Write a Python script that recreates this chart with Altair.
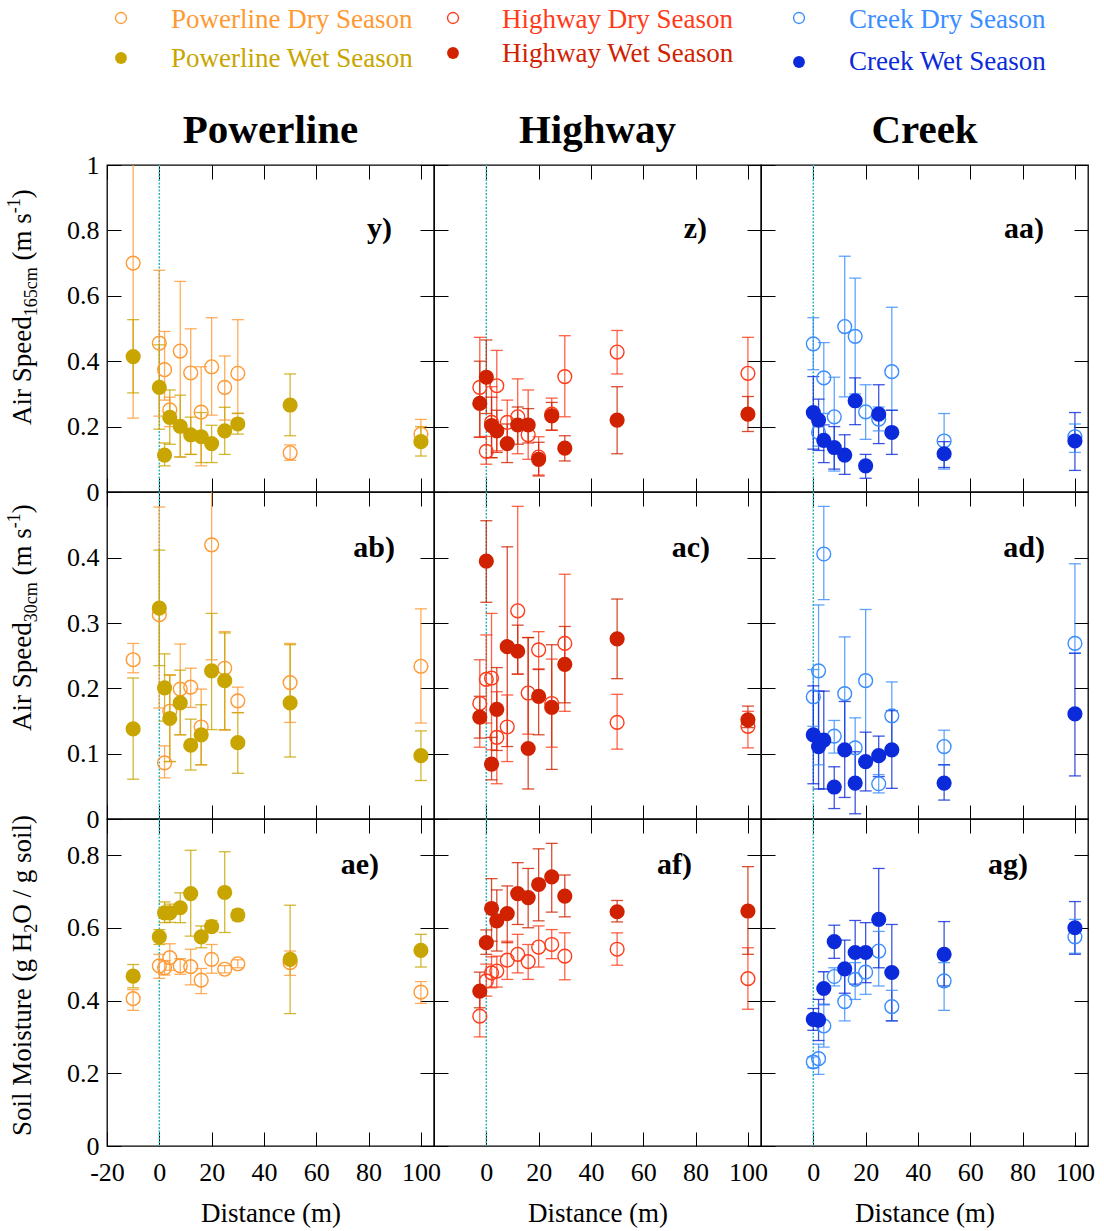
import altair as alt
import pandas as pd

FONT = "Liberation Serif"

SITES = ["Powerline", "Highway", "Creek"]
SERIES = ["Powerline Dry Season", "Powerline Wet Season",
          "Highway Dry Season", "Highway Wet Season",
          "Creek Dry Season", "Creek Wet Season"]
SERIES_COLORS = ["#FF9933", "#C8A500", "#FF3B1A", "#D02200", "#3A8DFF", "#0B2BDB"]
PANEL_LABELS = [["y)", "z)", "aa)"], ["ab)", "ac)", "ad)"], ["ae)", "af)", "ag)"]]

X_TICKS_FIRST = [-20, 0, 20, 40, 60, 80, 100]
X_TICKS_OTHER = [0, 20, 40, 60, 80, 100]
Y_TICKS = [[0, 0.2, 0.4, 0.6, 0.8, 1.0], [0, 0.1, 0.2, 0.3, 0.4], [0, 0.2, 0.4, 0.6, 0.8]]
Y_DOMAINS = [[0, 1.0], [0, 0.501], [0, 0.899]]

# ---------------- Powerline ----------------
PL_X = [-10, 0, 2, 4, 8, 12, 16, 20, 25, 30, 50, 100]
PL_V165_DRY = [0.700, 0.455, 0.374, 0.251, 0.431, 0.364, 0.244, 0.383, 0.320, 0.363, 0.120, 0.177]
PL_V165_DRY_LO = [0.226, 0.232, 0.281, 0.200, 0.107, 0.115, 0.080, 0.235, 0.220, 0.240, 0.097, 0.154]
PL_V165_DRY_HI = [1.050, 0.678, 0.491, 0.290, 0.644, 0.499, 0.383, 0.533, 0.416, 0.527, 0.144, 0.222]
PL_V165_WET = [0.414, 0.320, 0.113, 0.228, 0.201, 0.175, 0.169, 0.148, 0.187, 0.208, 0.266, 0.154]
PL_V165_WET_LO = [0.303, 0.192, 0.080, 0.146, 0.107, 0.115, 0.090, 0.090, 0.115, 0.177, 0.172, 0.110]
PL_V165_WET_HI = [0.527, 0.450, 0.150, 0.312, 0.296, 0.229, 0.243, 0.204, 0.259, 0.241, 0.361, 0.200]

PL_V30_DRY = [0.244, 0.313, 0.086, 0.165, 0.199, 0.202, 0.141, 0.420, 0.231, 0.181, 0.209, 0.234]
PL_V30_DRY_LO = [0.224, 0.170, 0.063, 0.088, 0.129, 0.171, 0.083, 0.244, 0.136, 0.163, 0.148, 0.147]
PL_V30_DRY_HI = [0.269, 0.478, 0.112, 0.220, 0.268, 0.231, 0.199, 0.520, 0.287, 0.202, 0.269, 0.322]
PL_V30_WET = [0.138, 0.323, 0.201, 0.154, 0.178, 0.113, 0.129, 0.227, 0.212, 0.117, 0.178, 0.097]
PL_V30_WET_LO = [0.061, 0.235, 0.150, 0.088, 0.129, 0.075, 0.083, 0.137, 0.137, 0.070, 0.095, 0.059]
PL_V30_WET_HI = [0.216, 0.412, 0.253, 0.221, 0.228, 0.153, 0.175, 0.315, 0.285, 0.163, 0.267, 0.135]

PL_SM_DRY = [0.405, 0.495, 0.490, 0.518, 0.495, 0.493, 0.456, 0.513, 0.486, 0.501, 0.504, 0.423]
PL_SM_DRY_LO = [0.373, 0.461, 0.470, 0.483, 0.472, 0.443, 0.419, 0.475, 0.476, 0.490, 0.469, 0.392]
PL_SM_DRY_HI = [0.430, 0.527, 0.510, 0.556, 0.515, 0.541, 0.488, 0.554, 0.496, 0.512, 0.536, 0.452]
PL_SM_WET = [0.467, 0.575, 0.641, 0.641, 0.655, 0.694, 0.575, 0.603, 0.697, 0.635, 0.513, 0.538]
PL_SM_WET_LO = [0.435, 0.554, 0.614, 0.615, 0.614, 0.577, 0.545, 0.590, 0.587, 0.620, 0.364, 0.492]
PL_SM_WET_HI = [0.499, 0.595, 0.671, 0.665, 0.696, 0.813, 0.605, 0.620, 0.809, 0.650, 0.662, 0.582]

# ---------------- Highway ----------------
HW_X = [-2.5, 0, 2, 4, 8, 12, 16, 20, 25, 30, 50, 100]
HW_V165_DRY = [0.320, 0.124, 0.213, 0.325, 0.213, 0.230, 0.175, 0.107, 0.238, 0.353, 0.428, 0.363]
HW_V165_DRY_LO = [0.167, 0.085, 0.105, 0.126, 0.150, 0.117, 0.100, 0.052, 0.189, 0.230, 0.361, 0.230]
HW_V165_DRY_HI = [0.473, 0.170, 0.322, 0.433, 0.281, 0.346, 0.312, 0.169, 0.287, 0.478, 0.494, 0.473]
HW_V165_WET = [0.271, 0.351, 0.203, 0.187, 0.148, 0.205, 0.205, 0.100, 0.233, 0.134, 0.220, 0.238]
HW_V165_WET_LO = [0.168, 0.240, 0.105, 0.121, 0.090, 0.146, 0.150, 0.049, 0.189, 0.095, 0.117, 0.185]
HW_V165_WET_HI = [0.400, 0.465, 0.290, 0.250, 0.208, 0.260, 0.255, 0.152, 0.274, 0.172, 0.322, 0.292]

HW_V30_DRY = [0.177, 0.214, 0.216, 0.125, 0.141, 0.319, 0.193, 0.259, 0.177, 0.269, 0.148, 0.142]
HW_V30_DRY_LO = [0.110, 0.147, 0.106, 0.054, 0.088, 0.222, 0.130, 0.230, 0.110, 0.165, 0.107, 0.109]
HW_V30_DRY_HI = [0.244, 0.282, 0.315, 0.195, 0.190, 0.479, 0.278, 0.287, 0.245, 0.375, 0.191, 0.165]
HW_V30_WET = [0.156, 0.395, 0.084, 0.168, 0.264, 0.257, 0.108, 0.188, 0.171, 0.237, 0.276, 0.152]
HW_V30_WET_LO = [0.124, 0.332, 0.060, 0.105, 0.111, 0.222, 0.046, 0.129, 0.076, 0.178, 0.215, 0.140]
HW_V30_WET_HI = [0.188, 0.457, 0.125, 0.232, 0.417, 0.297, 0.278, 0.229, 0.267, 0.295, 0.337, 0.173]

HW_SM_DRY = [0.357, 0.454, 0.476, 0.481, 0.511, 0.527, 0.507, 0.547, 0.554, 0.522, 0.541, 0.460]
HW_SM_DRY_LO = [0.300, 0.412, 0.435, 0.437, 0.458, 0.476, 0.458, 0.492, 0.515, 0.457, 0.497, 0.376]
HW_SM_DRY_HI = [0.420, 0.500, 0.520, 0.522, 0.563, 0.582, 0.554, 0.605, 0.595, 0.586, 0.586, 0.545]
HW_SM_WET = [0.426, 0.559, 0.653, 0.619, 0.639, 0.694, 0.683, 0.719, 0.740, 0.687, 0.644, 0.646]
HW_SM_WET_LO = [0.380, 0.527, 0.563, 0.536, 0.559, 0.609, 0.600, 0.619, 0.643, 0.630, 0.616, 0.527]
HW_SM_WET_HI = [0.478, 0.594, 0.735, 0.704, 0.715, 0.779, 0.763, 0.817, 0.832, 0.745, 0.675, 0.768]

# ---------------- Creek ----------------
CR_X = [0, 2, 4, 8, 12, 16, 20, 25, 30, 50, 100]
CR_V165_DRY = [0.453, 0.182, 0.349, 0.230, 0.506, 0.476, 0.245, 0.223, 0.368, 0.156, 0.169]
CR_V165_DRY_LO = [0.374, 0.140, 0.240, 0.064, 0.291, 0.300, 0.161, 0.187, 0.250, 0.070, 0.121]
CR_V165_DRY_HI = [0.533, 0.220, 0.457, 0.351, 0.721, 0.654, 0.328, 0.260, 0.565, 0.240, 0.208]
CR_V165_WET = [0.243, 0.220, 0.158, 0.136, 0.113, 0.279, 0.080, 0.238, 0.182, 0.117, 0.156]
CR_V165_WET_LO = [0.131, 0.127, 0.090, 0.070, 0.054, 0.206, 0.042, 0.148, 0.115, 0.075, 0.066]
CR_V165_WET_HI = [0.353, 0.284, 0.205, 0.200, 0.175, 0.349, 0.115, 0.328, 0.250, 0.154, 0.243]

CR_V30_DRY = [0.187, 0.227, 0.406, 0.127, 0.192, 0.109, 0.212, 0.054, 0.158, 0.111, 0.269]
CR_V30_DRY_LO = [0.142, 0.083, 0.336, 0.101, 0.110, 0.062, 0.090, 0.040, 0.111, 0.083, 0.254]
CR_V30_DRY_HI = [0.229, 0.328, 0.479, 0.151, 0.279, 0.155, 0.321, 0.068, 0.210, 0.136, 0.391]
CR_V30_WET = [0.129, 0.111, 0.121, 0.049, 0.106, 0.055, 0.088, 0.097, 0.106, 0.055, 0.161]
CR_V30_WET_LO = [0.054, 0.046, 0.046, 0.016, 0.033, 0.008, 0.043, 0.065, 0.047, 0.029, 0.066]
CR_V30_WET_HI = [0.204, 0.196, 0.196, 0.080, 0.180, 0.103, 0.133, 0.127, 0.166, 0.083, 0.254]

CR_SM_DRY = [0.231, 0.240, 0.330, 0.466, 0.397, 0.458, 0.478, 0.536, 0.383, 0.454, 0.575]
CR_SM_DRY_LO = [0.215, 0.197, 0.272, 0.440, 0.344, 0.403, 0.417, 0.440, 0.344, 0.373, 0.530]
CR_SM_DRY_HI = [0.245, 0.280, 0.389, 0.490, 0.476, 0.504, 0.522, 0.590, 0.428, 0.504, 0.623]
CR_SM_WET = [0.348, 0.346, 0.433, 0.562, 0.487, 0.532, 0.532, 0.623, 0.477, 0.527, 0.600]
CR_SM_WET_LO = [0.318, 0.290, 0.389, 0.516, 0.420, 0.445, 0.449, 0.490, 0.344, 0.440, 0.527]
CR_SM_WET_HI = [0.378, 0.403, 0.479, 0.607, 0.566, 0.620, 0.614, 0.763, 0.609, 0.617, 0.672]

SITE_X = [PL_X, HW_X, CR_X]
TABLE = {
    (0, 0): [(PL_V165_DRY, PL_V165_DRY_LO, PL_V165_DRY_HI), (PL_V165_WET, PL_V165_WET_LO, PL_V165_WET_HI)],
    (1, 0): [(PL_V30_DRY, PL_V30_DRY_LO, PL_V30_DRY_HI), (PL_V30_WET, PL_V30_WET_LO, PL_V30_WET_HI)],
    (2, 0): [(PL_SM_DRY, PL_SM_DRY_LO, PL_SM_DRY_HI), (PL_SM_WET, PL_SM_WET_LO, PL_SM_WET_HI)],
    (0, 1): [(HW_V165_DRY, HW_V165_DRY_LO, HW_V165_DRY_HI), (HW_V165_WET, HW_V165_WET_LO, HW_V165_WET_HI)],
    (1, 1): [(HW_V30_DRY, HW_V30_DRY_LO, HW_V30_DRY_HI), (HW_V30_WET, HW_V30_WET_LO, HW_V30_WET_HI)],
    (2, 1): [(HW_SM_DRY, HW_SM_DRY_LO, HW_SM_DRY_HI), (HW_SM_WET, HW_SM_WET_LO, HW_SM_WET_HI)],
    (0, 2): [(CR_V165_DRY, CR_V165_DRY_LO, CR_V165_DRY_HI), (CR_V165_WET, CR_V165_WET_LO, CR_V165_WET_HI)],
    (1, 2): [(CR_V30_DRY, CR_V30_DRY_LO, CR_V30_DRY_HI), (CR_V30_WET, CR_V30_WET_LO, CR_V30_WET_HI)],
    (2, 2): [(CR_SM_DRY, CR_SM_DRY_LO, CR_SM_DRY_HI), (CR_SM_WET, CR_SM_WET_LO, CR_SM_WET_HI)],
}

# ---------------- layout constants ----------------
W = 327
H = 327
TICK = 14
LABEL_INSET = [[42, 54, 44], [39, 51, 43], [55, 69, 60]]
LABEL_Y = [64, 56, 46]
YTITLE_X = -76
YTITLE_START = [260, 239, 317]
YTITLE_PIECES = [
    [("Air Speed", 27, 0), ("165cm", 18, 6), (" (m s", 27, 0), ("-1", 18, -11), (")", 27, 0)],
    [("Air Speed", 27, 0), ("30cm", 18, 6), (" (m s", 27, 0), ("-1", 18, -11), (")", 27, 0)],
    [("Soil Moisture (g H", 27, 0), ("2", 18, 6), ("O / g soil)", 27, 0)],
]
LEG_SYM_X = [14, 19, 38]
LEG_SYM_Y = [[-147, -107], [-147, -112], [-147, -103]]
LEG_TXT_X = [64, 68, 88]
LEG_TXT_Y = [[-137, -98], [-137, -103], [-137, -95]]

CHAR_W = {'A': .722, 'i': .278, 'r': .333, ' ': .25, 'S': .556, 'p': .5, 'e': .444, 'd': .5,
          '1': .5, '6': .5, '5': .5, '3': .5, '0': .5, 'c': .444, 'm': .778, '(': .333,
          ')': .333, 's': .389, '-': .333, 'o': .5, 'l': .278, 'M': .889, 't': .278,
          'u': .5, 'g': .5, 'H': .722, '2': .5, 'O': .722, '/': .278}


def text_width(s, fs):
    return sum(CHAR_W.get(ch, 0.5) for ch in s) * fs


color_scale = alt.Scale(domain=SERIES, range=SERIES_COLORS)


def make_panel(r, c):
    xs = SITE_X[c]
    rows = []
    for si, season in enumerate(["Dry", "Wet"]):
        mean, lo, hi = TABLE[(r, c)][si]
        for i in range(len(xs)):
            rows.append({"x": xs[i], "mean": mean[i], "lo": lo[i], "hi": hi[i],
                         "season": season, "series": f"{SITES[c]} {season} Season"})
    df = pd.DataFrame(rows)

    xsc = alt.Scale(domain=[-20, 105], nice=False, zero=False)
    ysc = alt.Scale(domain=Y_DOMAINS[r], nice=False, zero=False)
    col = alt.Color("series:N", scale=color_scale, legend=None)

    is_bottom = r == 2
    is_left = c == 0
    xa_kw = dict(orient="bottom", values=X_TICKS_FIRST if is_left else X_TICKS_OTHER,
                 offset=-TICK, tickSize=TICK, tickWidth=1, tickColor="black", domain=False,
                 grid=False, labels=is_bottom, labelFlush=False, labelOverlap=False,
                 labelPadding=13, labelFont=FONT, labelFontSize=26, labelColor="black",
                 labelExpr="datum.value < 0 ? '-' + abs(datum.value) : '' + datum.value")
    if is_bottom:
        xa_kw.update(title="Distance (m)", titleFont=FONT, titleFontSize=27,
                     titleFontWeight="normal", titleColor="black", titlePadding=15)
    else:
        xa_kw.update(title=None)
    ax_bottom = alt.Axis(**xa_kw)
    ay_left = alt.Axis(orient="left", values=Y_TICKS[r], offset=-TICK, tickSize=TICK,
                       tickWidth=1, tickColor="black", domain=False, grid=False,
                       labels=is_left, labelFlush=False, labelOverlap=False,
                       labelPadding=8, labelFont=FONT, labelFontSize=26,
                       labelColor="black", format="~g", title=None)
    ax_top = alt.Axis(orient="top", values=X_TICKS_FIRST, offset=-TICK, tickSize=TICK,
                      tickWidth=1, tickColor="black", domain=False, grid=False,
                      labels=False, title=None)
    ay_right = alt.Axis(orient="right", values=Y_TICKS[r], offset=-TICK, tickSize=TICK,
                        tickWidth=1, tickColor="black", domain=False, grid=False,
                        labels=False, title=None)

    zero = alt.Chart(pd.DataFrame({"x0": [0]})).mark_rule(
        color="#2BB5B8", strokeWidth=1.5, strokeDash=[2, 1.5]).encode(
        x=alt.X("x0:Q", scale=xsc, axis=None))

    base = alt.Chart(df)
    bars = base.mark_rule(strokeWidth=1.3, opacity=0.8, clip=True).encode(
        x=alt.X("x:Q", scale=xsc, axis=ax_bottom),
        y=alt.Y("lo:Q", scale=ysc, axis=ay_left),
        y2="hi:Q", color=col)
    cap_lo = base.mark_tick(orient="horizontal", size=12, thickness=1.3, opacity=0.8,
                            clip=True).encode(
        x=alt.X("x:Q", scale=xsc, axis=None), y=alt.Y("lo:Q", scale=ysc, axis=None), color=col)
    cap_hi = base.mark_tick(orient="horizontal", size=12, thickness=1.3, opacity=0.8,
                            clip=True).encode(
        x=alt.X("x:Q", scale=xsc, axis=None), y=alt.Y("hi:Q", scale=ysc, axis=None), color=col)
    dry = base.transform_filter(alt.datum.season == "Dry").mark_point(
        filled=False, size=190, strokeWidth=1.4, opacity=1).encode(
        x=alt.X("x:Q", scale=xsc, axis=ax_top),
        y=alt.Y("mean:Q", scale=ysc, axis=ay_right), color=col)
    wet = base.transform_filter(alt.datum.season == "Wet").mark_point(
        filled=True, size=230, opacity=1).encode(
        x=alt.X("x:Q", scale=xsc, axis=None),
        y=alt.Y("mean:Q", scale=ysc, axis=None), color=col)

    lab = alt.Chart(pd.DataFrame({"t": [PANEL_LABELS[r][c]]})).mark_text(
        align="right", baseline="middle", font=FONT, fontSize=30, fontWeight="bold",
        color="black").encode(x=alt.value(W - LABEL_INSET[r][c]), y=alt.value(LABEL_Y[r]),
                              text="t:N")

    layers = [zero, bars, cap_lo, cap_hi, dry, wet, lab]

    if is_left:
        off = 0.0
        for txt, fs, dy in YTITLE_PIECES[r]:
            stripped = txt.lstrip(" ")
            lead = text_width(txt[:len(txt) - len(stripped)], fs)
            layers.append(alt.Chart(pd.DataFrame({"t": [stripped]})).mark_text(
                angle=270, align="left", baseline="alphabetic", font=FONT, fontSize=fs,
                dx=off + lead, dy=dy, color="black").encode(
                x=alt.value(YTITLE_X), y=alt.value(YTITLE_START[r]), text="t:N"))
            off += text_width(txt, fs)

    if r == 0:
        layers.append(alt.Chart(pd.DataFrame({"t": [SITES[c]]})).mark_text(
            align="center", baseline="alphabetic", font=FONT, fontSize=41, fontWeight="bold",
            color="black").encode(x=alt.value(W / 2), y=alt.value(-22), text="t:N"))
        for si in range(2):
            name = SERIES[2 * c + si]
            colr = SERIES_COLORS[2 * c + si]
            layers.append(alt.Chart(pd.DataFrame({"t": [name]})).mark_point(
                filled=(si == 1), size=120 if si == 0 else 140, strokeWidth=1.4,
                opacity=1, color=colr).encode(
                x=alt.value(LEG_SYM_X[c]), y=alt.value(LEG_SYM_Y[c][si])))
            layers.append(alt.Chart(pd.DataFrame({"t": [name]})).mark_text(
                align="left", baseline="alphabetic", font=FONT, fontSize=27,
                color=colr).encode(
                x=alt.value(LEG_TXT_X[c]), y=alt.value(LEG_TXT_Y[c][si]), text="t:N"))

    return alt.layer(*layers).resolve_axis(x="independent", y="independent").properties(
        width=W, height=H)


panels = [make_panel(r, c) for r in range(3) for c in range(3)]

chart = alt.concat(*panels, columns=3, spacing=0, bounds="flush").resolve_scale(
    x="independent", y="independent").configure(font=FONT).configure_axis(
    labelFont=FONT, titleFont=FONT, labelFontSize=26).configure_text(
    font=FONT).configure_view(
    stroke="black", strokeWidth=1.3).properties(
    padding={"left": 5, "top": 5, "right": 8, "bottom": 4}, background="white")

chart.save("out.html", embed_options={"renderer": "svg", "actions": False})
